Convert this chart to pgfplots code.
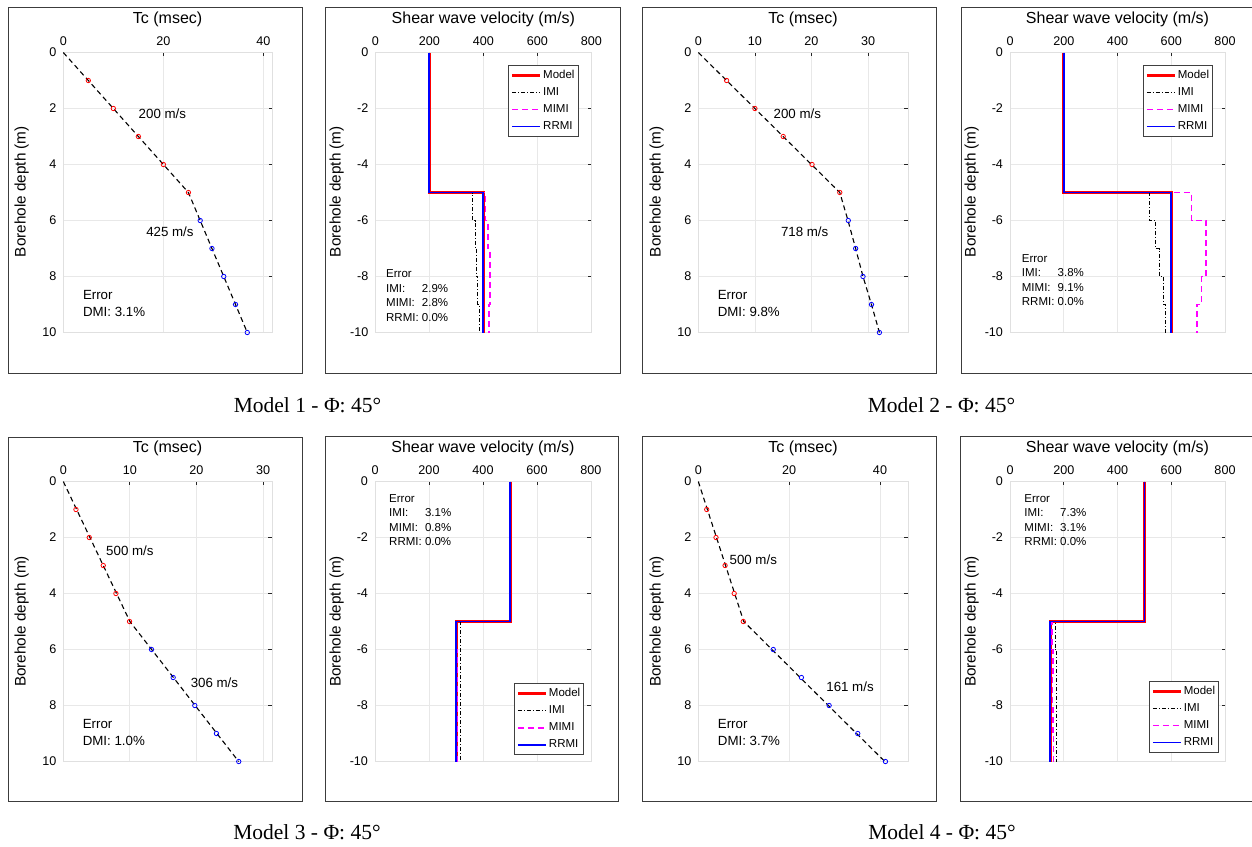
\documentclass[border=0pt]{standalone}
\usepackage{fontspec}
\setmainfont{Liberation Sans}
\newfontfamily\capfont{Liberation Serif}
\usepackage{pgfplots}
\pgfplotsset{compat=1.18}

\definecolor{gridgray}{RGB}{232,232,232}
\definecolor{framegray}{RGB}{60,60,60}
\definecolor{mimicol}{RGB}{255,0,255}

\newcommand{\annfont}{\fontsize{13.3}{15}\selectfont}
\newcommand{\dmifont}{\fontsize{13.3}{17}\selectfont}
\newcommand{\errfont}{\fontsize{11.5}{14.5}\selectfont}

\pgfplotsset{
  panel/.style={
    scale only axis, height=280pt, clip=false,
    axis line style={draw=black!12},
    grid=major, major grid style={gridgray, line width=0.8pt},
    xtick pos=right, xticklabel pos=right,
    ytick pos=right, yticklabel pos=left,
    tick align=inside, major tick length=3.5pt,
    tick style={black!85, line width=0.8pt},
    ticklabel style={font=\fontsize{12.6}{14}\selectfont},
    yticklabel style={xshift=-3.5pt},
    xticklabel style={yshift=3.5pt},
  },
  % travel time vs depth (direct method)
  dmi/.style={panel, y dir=reverse, ymin=0, ymax=10, xmin=0,
    ytick={0,2,...,10}, yticklabels={0,2,4,6,8,10}},
  % shear wave velocity profile
  vs/.style={panel, xmin=0, xmax=800, ymin=-10, ymax=0,
    xtick={0,200,...,800}, xticklabels={0,200,400,600,800},
    ytick={-10,-8,...,0}, yticklabels={-10,-8,-6,-4,-2,0},
    legend cell align=left,
    legend style={font=\fontsize{11.5}{13}\selectfont, draw=black!75,
      line width=0.6pt, inner xsep=2pt, inner ysep=3pt, row sep=3pt,
      nodes={inner sep=1.5pt, text height=8.5pt, text depth=2.5pt}},
    legend image code/.code={\draw[##1] (0pt,0pt) -- (28pt,0pt);},
  },
  fitline/.style={black, line width=1.1pt, dash pattern=on 5pt off 3.5pt},
  ptA/.style={only marks, red, mark=o, mark size=2.2pt, mark options={line width=0.8pt}},
  ptB/.style={only marks, blue, mark=o, mark size=2.2pt, mark options={line width=0.8pt}},
  modelline/.style={red, line width=3pt},
  imiline/.style={black, line width=0.75pt, dash pattern=on 4pt off 2pt on 1pt off 2pt},
  mimiline/.style={mimicol, line width=1.5pt, dash pattern=on 6pt off 4pt},
  rrmiline/.style={blue, line width=1.7pt},
}

\begin{document}
\begin{tikzpicture}
\useasboundingbox (0pt,0pt) rectangle (1252pt,-846pt);
\fill[white] (0pt,0pt) rectangle (1252pt,-846pt);

% panel frames
\begin{scope}[framegray, line width=1pt]
\draw (8pt,-7pt) rectangle (302pt,-373pt);
\draw (325pt,-7pt) rectangle (620pt,-373pt);
\draw (642pt,-7pt) rectangle (936pt,-373pt);
\draw (1253pt,-7pt) -- (961pt,-7pt) -- (961pt,-373pt) -- (1253pt,-373pt);
\draw (8pt,-437pt) rectangle (302pt,-801pt);
\draw (325pt,-436pt) rectangle (618pt,-801pt);
\draw (642pt,-436pt) rectangle (936pt,-801pt);
\draw (1253pt,-436pt) -- (960pt,-436pt) -- (960pt,-801pt) -- (1253pt,-801pt);
\end{scope}

% titles and axis labels
\begin{scope}[font=\fontsize{16}{18}\selectfont]
\node at (167.6pt,-19.5pt) {Tc (msec)};
\node at (483.3pt,-19.5pt) {Shear wave velocity (m/s)};
\node at (803pt,-19.5pt) {Tc (msec)};
\node at (1117.5pt,-19.5pt) {Shear wave velocity (m/s)};
\node at (167.5pt,-448.5pt) {Tc (msec)};
\node at (483pt,-448.5pt) {Shear wave velocity (m/s)};
\node at (803pt,-448.5pt) {Tc (msec)};
\node at (1117.5pt,-448.5pt) {Shear wave velocity (m/s)};
\end{scope}
\begin{scope}[font=\fontsize{15.3}{17}\selectfont]
\node[rotate=90] at (21.7pt,-191.7pt) {Borehole depth (m)};
\node[rotate=90] at (336.7pt,-191.7pt) {Borehole depth (m)};
\node[rotate=90] at (656.7pt,-191.7pt) {Borehole depth (m)};
\node[rotate=90] at (971.7pt,-191.7pt) {Borehole depth (m)};
\node[rotate=90] at (21.7pt,-621.5pt) {Borehole depth (m)};
\node[rotate=90] at (336.7pt,-621.5pt) {Borehole depth (m)};
\node[rotate=90] at (656.7pt,-621.5pt) {Borehole depth (m)};
\node[rotate=90] at (971.7pt,-621.5pt) {Borehole depth (m)};
\end{scope}

% captions
\begin{scope}[font=\capfont\fontsize{21.5}{23}\selectfont]
\node at (307.5pt,-405.5pt) {Model 1 - Φ: 45°};
\node at (941.5pt,-405.5pt) {Model 2 - Φ: 45°};
\node at (307pt,-832pt) {Model 3 - Φ: 45°};
\node at (942pt,-832pt) {Model 4 - Φ: 45°};
\end{scope}

%% ---------------- Model 1 ----------------
\begin{axis}[dmi, at={(63.3pt,-52.5pt)}, anchor=north west, width=208.7pt,
  xmax=41.7, xtick={0,20,40}, xticklabels={0,20,40}]
\addplot[fitline] coordinates {(0,0)(5,1)(10,2)(15,3)(20,4)(25,5)(27.35,6)(29.7,7)(32.06,8)(34.41,9)(36.76,10)};
\addplot[ptA] coordinates {(5,1)(10,2)(15,3)(20,4)(25,5)};
\addplot[ptB] coordinates {(27.35,6)(29.7,7)(32.06,8)(34.41,9)(36.76,10)};
\node[font=\annfont] at (axis cs:19.8,2.18) {200 m/s};
\node[font=\annfont] at (axis cs:21.3,6.41) {425 m/s};
\node[font=\dmifont, anchor=west, align=left, inner sep=0pt] at (axis cs:3.9,8.96) {Error\\DMI: 3.1\%};
\end{axis}

\begin{axis}[vs, at={(375.3pt,-52.5pt)}, anchor=north west, width=216pt,
  legend style={at={(0.94,0.955)}, anchor=north east}]
\addplot[modelline] coordinates {(200,0)(200,-5)(400,-5)(400,-10)};
\addplot[imiline] coordinates {(200,0)(200,-5)(361,-5)(361,-6)(369,-6)(369,-7)(374,-7)(374,-8)(379,-8)(379,-9)(384,-9)(384,-10)};
\addplot[mimiline] coordinates {(200,0)(200,-5)(409,-5)(409,-6)(418,-6)(418,-7)(425,-7)(425,-9)(421,-9)(421,-10)};
\addplot[rrmiline] coordinates {(200,0)(200,-5)(400,-5)(400,-10)};
\legend{Model,IMI,MIMI,RRMI}
\node[font=\errfont, anchor=west, inner sep=0pt] at (axis cs:39.6,-8.72)
  {\begin{tabular}{@{}l@{ }l@{}}Error&\\IMI:&2.9\%\\MIMI:&2.8\%\\RRMI:&0.0\%\end{tabular}};
\end{axis}

%% ---------------- Model 2 ----------------
\begin{axis}[dmi, at={(698.3pt,-52.5pt)}, anchor=north west, width=209.4pt,
  xmax=37, xtick={0,10,20,30}, xticklabels={0,10,20,30}]
\addplot[fitline] coordinates {(0,0)(5,1)(10,2)(15,3)(20,4)(25,5)(26.45,6)(27.8,7)(29.1,8)(30.6,9)(32.0,10)};
\addplot[ptA] coordinates {(5,1)(10,2)(15,3)(20.1,4)(25,5)};
\addplot[ptB] coordinates {(26.5,6)(27.8,7)(29.1,8)(30.6,9)(32.0,10)};
\node[font=\annfont] at (axis cs:17.5,2.18) {200 m/s};
\node[font=\annfont] at (axis cs:18.8,6.41) {718 m/s};
\node[font=\dmifont, anchor=west, align=left, inner sep=0pt] at (axis cs:3.4,8.96) {Error\\DMI: 9.8\%};
\end{axis}

\begin{axis}[vs, at={(1010pt,-52.5pt)}, anchor=north west, width=215pt,
  legend style={at={(0.944,0.955)}, anchor=north east}]
\addplot[modelline] coordinates {(200,0)(200,-5)(600,-5)(600,-10)};
\addplot[imiline] coordinates {(200,0)(200,-5)(518,-5)(518,-6)(541,-6)(541,-7)(557,-7)(557,-8)(571,-8)(571,-9)(577,-9)(577,-10)};
\addplot[mimiline] coordinates {(200,0)(200,-5)(676,-5)(676,-6)(729,-6)(729,-8)(713,-8)(713,-9)(695,-9)(695,-10)};
\addplot[rrmiline] coordinates {(200,0)(200,-5)(600,-5)(600,-10)};
\legend{Model,IMI,MIMI,RRMI}
\node[font=\errfont, anchor=west, inner sep=0pt] at (axis cs:43.5,-8.17)
  {\begin{tabular}{@{}l@{ }l@{}}Error&\\IMI:&3.8\%\\MIMI:&9.1\%\\RRMI:&0.0\%\end{tabular}};
\end{axis}

%% ---------------- Model 3 ----------------
\begin{axis}[dmi, at={(63.3pt,-481.5pt)}, anchor=north west, width=208.4pt,
  xmax=31.3, xtick={0,10,20,30}, xticklabels={0,10,20,30}]
\addplot[fitline] coordinates {(0,0)(2,1)(4,2)(6,3)(8,4)(10,5)(13.27,6)(16.54,7)(19.8,8)(23.07,9)(26.34,10)};
\addplot[ptA] coordinates {(1.9,1)(3.9,2)(6.0,3)(7.9,4)(9.95,5)};
\addplot[ptB] coordinates {(13.25,6)(16.5,7)(19.75,8)(23.0,9)(26.35,10)};
\node[font=\annfont] at (axis cs:10.0,2.48) {500 m/s};
\node[font=\annfont] at (axis cs:22.7,7.18) {306 m/s};
\node[font=\dmifont, anchor=west, align=left, inner sep=0pt] at (axis cs:2.9,8.96) {Error\\DMI: 1.0\%};
\end{axis}

\begin{axis}[vs, at={(375pt,-481.5pt)}, anchor=north west, width=216pt,
  legend style={at={(0.968,0.023)}, anchor=south east}]
\addplot[modelline] coordinates {(500,0)(500,-5)(300,-5)(300,-10)};
\addplot[imiline] coordinates {(500,0)(500,-5)(317,-5)(317,-10)};
\addplot[mimiline] coordinates {(500,0)(500,-5)(302,-5)(302,-6)(306,-6)(306,-7)(304,-7)(304,-8)(305,-8)(305,-9)(306,-9)(306,-10)};
\addplot[rrmiline] coordinates {(500,0)(500,-5)(300,-5)(300,-10)};
\legend{Model,IMI,MIMI,RRMI}
\node[font=\errfont, anchor=west, inner sep=0pt] at (axis cs:52,-1.42)
  {\begin{tabular}{@{}l@{ }l@{}}Error&\\IMI:&3.1\%\\MIMI:&0.8\%\\RRMI:&0.0\%\end{tabular}};
\end{axis}

%% ---------------- Model 4 ----------------
\begin{axis}[dmi, at={(698.3pt,-481.5pt)}, anchor=north west, width=209.4pt,
  xmax=46.1, xtick={0,20,40}, xticklabels={0,20,40}]
\addplot[fitline] coordinates {(0,0)(2,1)(4,2)(6,3)(8,4)(10,5)(16.21,6)(22.42,7)(28.63,8)(34.84,9)(41.06,10)};
\addplot[ptA] coordinates {(1.85,1)(3.9,2)(5.9,3)(7.9,4)(9.9,5)};
\addplot[ptB] coordinates {(16.5,6)(22.7,7)(28.8,8)(35.1,9)(41.2,10)};
\node[font=\annfont] at (axis cs:12.1,2.81) {500 m/s};
\node[font=\annfont] at (axis cs:33.4,7.33) {161 m/s};
\node[font=\dmifont, anchor=west, align=left, inner sep=0pt] at (axis cs:4.27,8.96) {Error\\DMI: 3.7\%};
\end{axis}

\begin{axis}[vs, at={(1010pt,-481.5pt)}, anchor=north west, width=215pt,
  legend style={at={(0.972,0.031)}, anchor=south east}]
\addplot[modelline] coordinates {(500,0)(500,-5)(150,-5)(150,-10)};
\addplot[imiline] coordinates {(500,0)(500,-5)(167,-5)(167,-6)(174,-6)(174,-10)};
\addplot[mimiline] coordinates {(500,0)(500,-5)(156,-5)(156,-6)(160,-6)(160,-7)(158,-7)(158,-8)(160,-8)(160,-9)(162,-9)(162,-10)};
\addplot[rrmiline] coordinates {(500,0)(500,-5)(150,-5)(150,-10)};
\legend{Model,IMI,MIMI,RRMI}
\node[font=\errfont, anchor=west, inner sep=0pt] at (axis cs:53,-1.42)
  {\begin{tabular}{@{}l@{ }l@{}}Error&\\IMI:&7.3\%\\MIMI:&3.1\%\\RRMI:&0.0\%\end{tabular}};
\end{axis}

\end{tikzpicture}
\end{document}
